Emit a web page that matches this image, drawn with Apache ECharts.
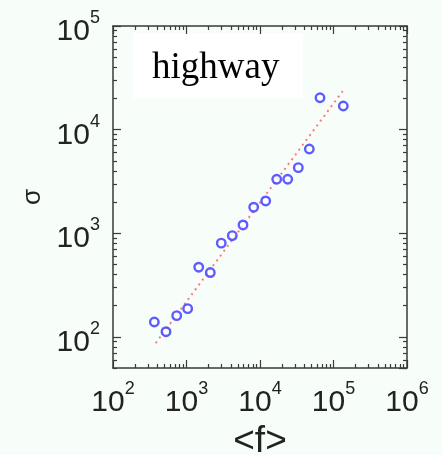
<!DOCTYPE html>
<html>
<head>
<meta charset="utf-8">
<script src="https://cdn.jsdelivr.net/npm/echarts@6/dist/echarts.min.js"></script>
<style>
html,body{margin:0;padding:0;background:#f7fdf9;}
#chart{width:442px;height:455px;}
</style>
</head>
<body>
<div id="chart"></div>
<script>
// Data (log-log)
const fValues = [365, 526, 736, 1037, 1466, 2108, 2972, 4198, 5871, 8208, 11960, 16880, 23820, 33200, 46880, 65500, 135900];
const sigmaValues = [139, 112, 160, 187, 470, 417, 802, 948, 1202, 1782, 2049, 3318, 3318, 4295, 6500, 20300, 16900];
const fitF = [381, 133400];
const fitSigma = [87, 23560];
const xRange = [100, 1000000];
const yRange = [50, 100000];
const xDecades = [100, 1000, 10000, 100000];
const yDecades = [10, 100, 1000, 10000];
const minorMultipliers = [2, 3, 4, 5, 6, 7, 8, 9];
const panelLabel = 'highway';
const xName = '<f>';
const yName = 'σ';

function minorValues(decades, lo, hi) {
  const out = [];
  decades.forEach(d => minorMultipliers.forEach(m => {
    const v = d * m;
    if (v >= lo && v <= hi) out.push(v);
  }));
  return out;
}
const xMinor = minorValues(xDecades, xRange[0], xRange[1]);
const yMinor = minorValues(yDecades, yRange[0], yRange[1]);

function powLabel(v) {
  const e = Math.round(Math.log10(v));
  if (Math.abs(Math.pow(10, e) - v) > 1e-6 * v) return '';
  return '{b|10}{s|' + e + '}';
}

const frameColor = '#3a3a3a';
const labelRich = {
  b: { fontSize: 30, lineHeight: 38, verticalAlign: 'bottom', color: '#222', fontFamily: 'Liberation Sans, Arial, sans-serif' },
  s: { fontSize: 18, lineHeight: 18, verticalAlign: 'top', color: '#222', fontFamily: 'Liberation Sans, Arial, sans-serif' }
};

function mkAxis(kind, range, position, isMinor, withLabels, minorVals, extra) {
  const ax = {
    type: 'log',
    logBase: 10,
    min: range[0],
    max: range[1],
    position: position,
    splitLine: { show: false },
    axisLine: { show: !isMinor, onZero: false, lineStyle: { color: frameColor, width: 1.5 } },
    axisTick: { show: true, inside: true, length: isMinor ? 4 : 8, lineStyle: { color: frameColor, width: 1.2 } },
    axisLabel: { show: false },
    minorTick: { show: false },
    minorSplitLine: { show: false }
  };
  if (isMinor) {
    ax.axisTick.customValues = minorVals;
  }
  if (withLabels) {
    ax.axisLabel = {
      show: true,
      formatter: powLabel,
      rich: labelRich,
      showMinLabel: kind === 'x',
      margin: kind === 'x' ? 12 : 13,
      padding: kind === 'x' ? 0 : [4, 0, 0, 0]
    };
  }
  return Object.assign(ax, extra || {});
}

const chart = echarts.init(document.getElementById('chart'), null, { renderer: 'canvas' });
chart.setOption({
  animation: false,
  backgroundColor: '#f7fdf9',
  grid: { left: 113, right: 35, top: 26, bottom: 87, containLabel: false, outerBoundsMode: 'none' },
  xAxis: [
    mkAxis('x', xRange, 'bottom', false, true, null, {
      name: xName, nameLocation: 'middle', nameGap: 53,
      nameTextStyle: { fontSize: 37, color: '#222', fontFamily: 'Liberation Sans, Arial, sans-serif' }
    }),
    mkAxis('x', xRange, 'bottom', true, false, xMinor),
    mkAxis('x', xRange, 'top', false, false),
    mkAxis('x', xRange, 'top', true, false, xMinor)
  ],
  yAxis: [
    mkAxis('y', yRange, 'left', false, true, null, {
      name: yName, nameLocation: 'middle', nameGap: 65, nameRotate: 90,
      nameTextStyle: { fontSize: 26, color: '#222', fontFamily: 'Liberation Sans, Arial, sans-serif' }
    }),
    mkAxis('y', yRange, 'left', true, false, yMinor),
    mkAxis('y', yRange, 'right', false, false),
    mkAxis('y', yRange, 'right', true, false, yMinor)
  ],
  graphic: [
    { type: 'rect', shape: { x: 133, y: 33, width: 170, height: 65 }, style: { fill: '#ffffff' }, z: 0, silent: true },
    { type: 'text', x: 152, y: 68, style: { text: panelLabel, font: '37px "Liberation Serif", "Times New Roman", serif', fill: '#000', verticalAlign: 'middle' }, z: 1 }
  ],
  series: [
    {
      type: 'line',
      xAxisIndex: 0, yAxisIndex: 0,
      data: fitF.map((f, i) => [f, fitSigma[i]]),
      showSymbol: false,
      symbol: 'none',
      lineStyle: { color: '#ff7a7a', width: 2, type: [2, 4] },
      z: 2
    },
    {
      type: 'scatter',
      xAxisIndex: 0, yAxisIndex: 0,
      data: fValues.map((f, i) => [f, sigmaValues[i]]),
      symbol: 'circle',
      symbolSize: 8.5,
      itemStyle: { color: '#ffffff', borderColor: '#3535ff', borderWidth: 2.4 },
      z: 3
    }
  ]
});
</script>
</body>
</html>
